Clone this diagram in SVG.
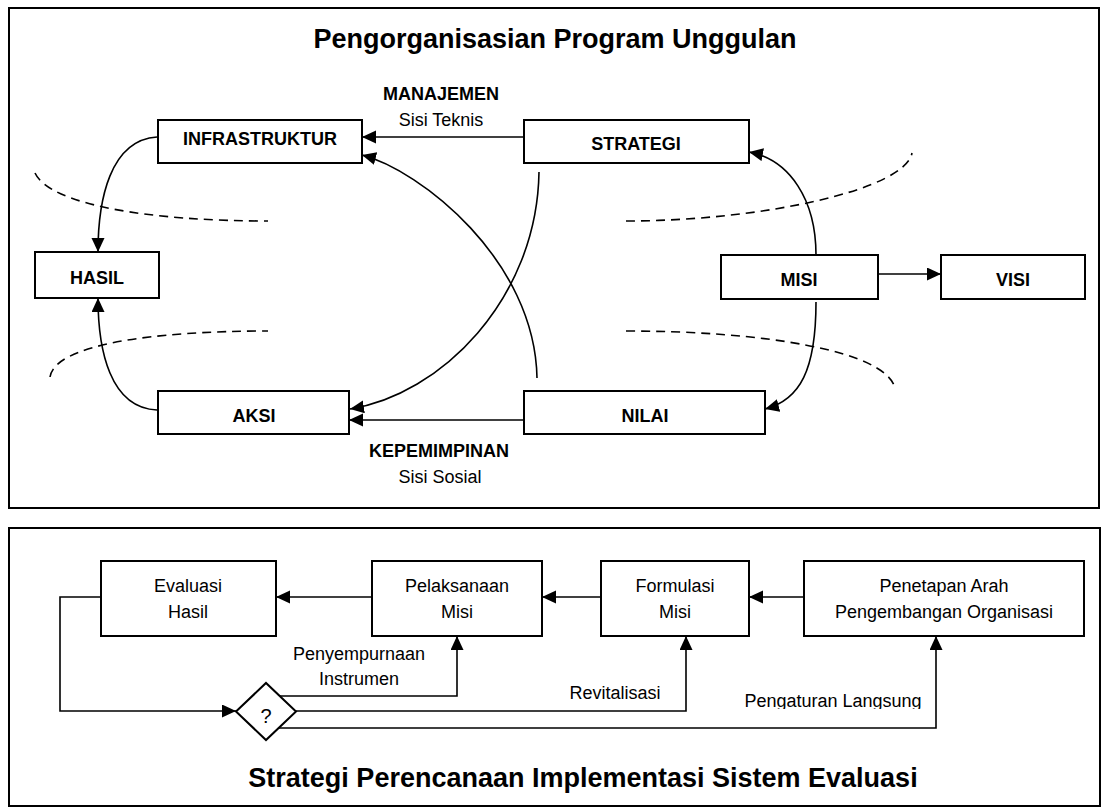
<svg xmlns="http://www.w3.org/2000/svg" width="1107" height="811" viewBox="0 0 1107 811">
<style>
text{font-family:"Liberation Sans",Arial,sans-serif;fill:#000}
.b{font-weight:bold;font-size:18px}
.r{font-size:18px}
.t{font-weight:bold;font-size:27px}
.box{fill:#fff;stroke:#000;stroke-width:2}
.frame{fill:none;stroke:#000;stroke-width:2}
.c{fill:none;stroke:#000;stroke-width:1.6}
.d{fill:none;stroke:#000;stroke-width:1.6;stroke-dasharray:9 6}
</style>
<defs>
<marker id="ah" markerWidth="15" markerHeight="15" refX="14" refY="6.5" orient="auto" markerUnits="userSpaceOnUse">
<path d="M0,0 L14,6.5 L0,13 z" fill="#000"/>
</marker>
<clipPath id="clipPL"><rect x="700" y="680" width="260" height="29"/></clipPath>
</defs>

<g id="frames">
<rect class="frame" x="9" y="8" width="1090" height="500"/>
<rect class="frame" x="9" y="528" width="1091" height="278"/>
</g>

<g id="titles">
<text class="t" x="555" y="48" text-anchor="middle">Pengorganisasian Program Unggulan</text>
<text class="t" x="583" y="787" text-anchor="middle">Strategi Perencanaan Implementasi Sistem Evaluasi</text>
</g>

<g id="dashed">
<path class="d" d="M35,173 C50,205 150,221 268,221"/>
<path class="d" d="M50,377 C55,345 150,331 268,331"/>
<path class="d" d="M626,221 C760,221 905,190 912,153"/>
<path class="d" d="M626,331 C760,331 885,350 895,388"/>
</g>

<g id="connectors">
<path class="c" d="M524,137 L362,137" marker-end="url(#ah)"/>
<path class="c" d="M157,137 C110,140 98,200 98,252" marker-end="url(#ah)"/>
<path class="c" d="M157,410 C110,408 98,350 98,298" marker-end="url(#ah)"/>
<path class="c" d="M539,172 C537,300 440,395 350,409" marker-end="url(#ah)"/>
<path class="c" d="M537,378 C535,260 420,170 362,155" marker-end="url(#ah)"/>
<path class="c" d="M524,420 L349,420" marker-end="url(#ah)"/>
<path class="c" d="M816,255 C816,200 790,160 749,152" marker-end="url(#ah)"/>
<path class="c" d="M816,302 C816,370 800,400 765,409" marker-end="url(#ah)"/>
<path class="c" d="M878,274 L941,274" marker-end="url(#ah)"/>

<path class="c" d="M804,597 L749,597" marker-end="url(#ah)"/>
<path class="c" d="M601,597 L542,597" marker-end="url(#ah)"/>
<path class="c" d="M372,597 L276,597" marker-end="url(#ah)"/>
<path class="c" d="M101,597 L60,597 L60,711 L236,711" marker-end="url(#ah)"/>
<path class="c" d="M275,696 L457,696 L457,636" marker-end="url(#ah)"/>
<path class="c" d="M296,711 L686,711 L686,636" marker-end="url(#ah)"/>
<path class="c" d="M275,728 L936,728 L936,636" marker-end="url(#ah)"/>
</g>

<g id="labels">
<text class="b" x="441" y="100" text-anchor="middle">MANAJEMEN</text>
<text class="r" x="441" y="126" text-anchor="middle">Sisi Teknis</text>
<text class="b" x="439" y="457" text-anchor="middle">KEPEMIMPINAN</text>
<text class="r" x="440" y="483" text-anchor="middle">Sisi Sosial</text>
<text class="r" x="359" y="660" text-anchor="middle">Penyempurnaan</text>
<text class="r" x="359" y="685" text-anchor="middle">Instrumen</text>
<text class="r" x="615" y="699" text-anchor="middle">Revitalisasi</text>
<text class="r" x="833" y="707" text-anchor="middle" clip-path="url(#clipPL)">Pengaturan Langsung</text>
</g>

<g id="infrastruktur">
<rect class="box" x="158" y="120" width="204" height="43"/>
<text class="b" x="260" y="145" text-anchor="middle">INFRASTRUKTUR</text>
</g>
<g id="strategi">
<rect class="box" x="524" y="120" width="225" height="43"/>
<text class="b" x="636" y="150" text-anchor="middle">STRATEGI</text>
</g>
<g id="hasil">
<rect class="box" x="35" y="252" width="124" height="46"/>
<text class="b" x="97" y="284" text-anchor="middle">HASIL</text>
</g>
<g id="misi">
<rect class="box" x="721" y="255" width="157" height="44"/>
<text class="b" x="799" y="286" text-anchor="middle">MISI</text>
</g>
<g id="visi">
<rect class="box" x="941" y="255" width="144" height="44"/>
<text class="b" x="1013" y="286" text-anchor="middle">VISI</text>
</g>
<g id="aksi">
<rect class="box" x="158" y="391" width="191" height="43"/>
<text class="b" x="254" y="422" text-anchor="middle">AKSI</text>
</g>
<g id="nilai">
<rect class="box" x="524" y="391" width="241" height="43"/>
<text class="b" x="645" y="422" text-anchor="middle">NILAI</text>
</g>

<g id="evaluasi-hasil">
<rect class="box" x="101" y="561" width="175" height="75"/>
<text class="r" x="188" y="592" text-anchor="middle">Evaluasi</text>
<text class="r" x="188" y="618" text-anchor="middle">Hasil</text>
</g>
<g id="pelaksanaan-misi">
<rect class="box" x="372" y="561" width="170" height="75"/>
<text class="r" x="457" y="592" text-anchor="middle">Pelaksanaan</text>
<text class="r" x="457" y="618" text-anchor="middle">Misi</text>
</g>
<g id="formulasi-misi">
<rect class="box" x="601" y="561" width="148" height="75"/>
<text class="r" x="675" y="592" text-anchor="middle">Formulasi</text>
<text class="r" x="675" y="618" text-anchor="middle">Misi</text>
</g>
<g id="penetapan-arah">
<rect class="box" x="804" y="561" width="280" height="75"/>
<text class="r" x="944" y="592" text-anchor="middle">Penetapan Arah</text>
<text class="r" x="944" y="618" text-anchor="middle">Pengembangan Organisasi</text>
</g>
<g id="decision">
<path class="box" d="M236,711.5 L266,683 L296,711.5 L266,740 z"/>
<text x="266" y="723" text-anchor="middle" font-size="20">?</text>
</g>
</svg>
